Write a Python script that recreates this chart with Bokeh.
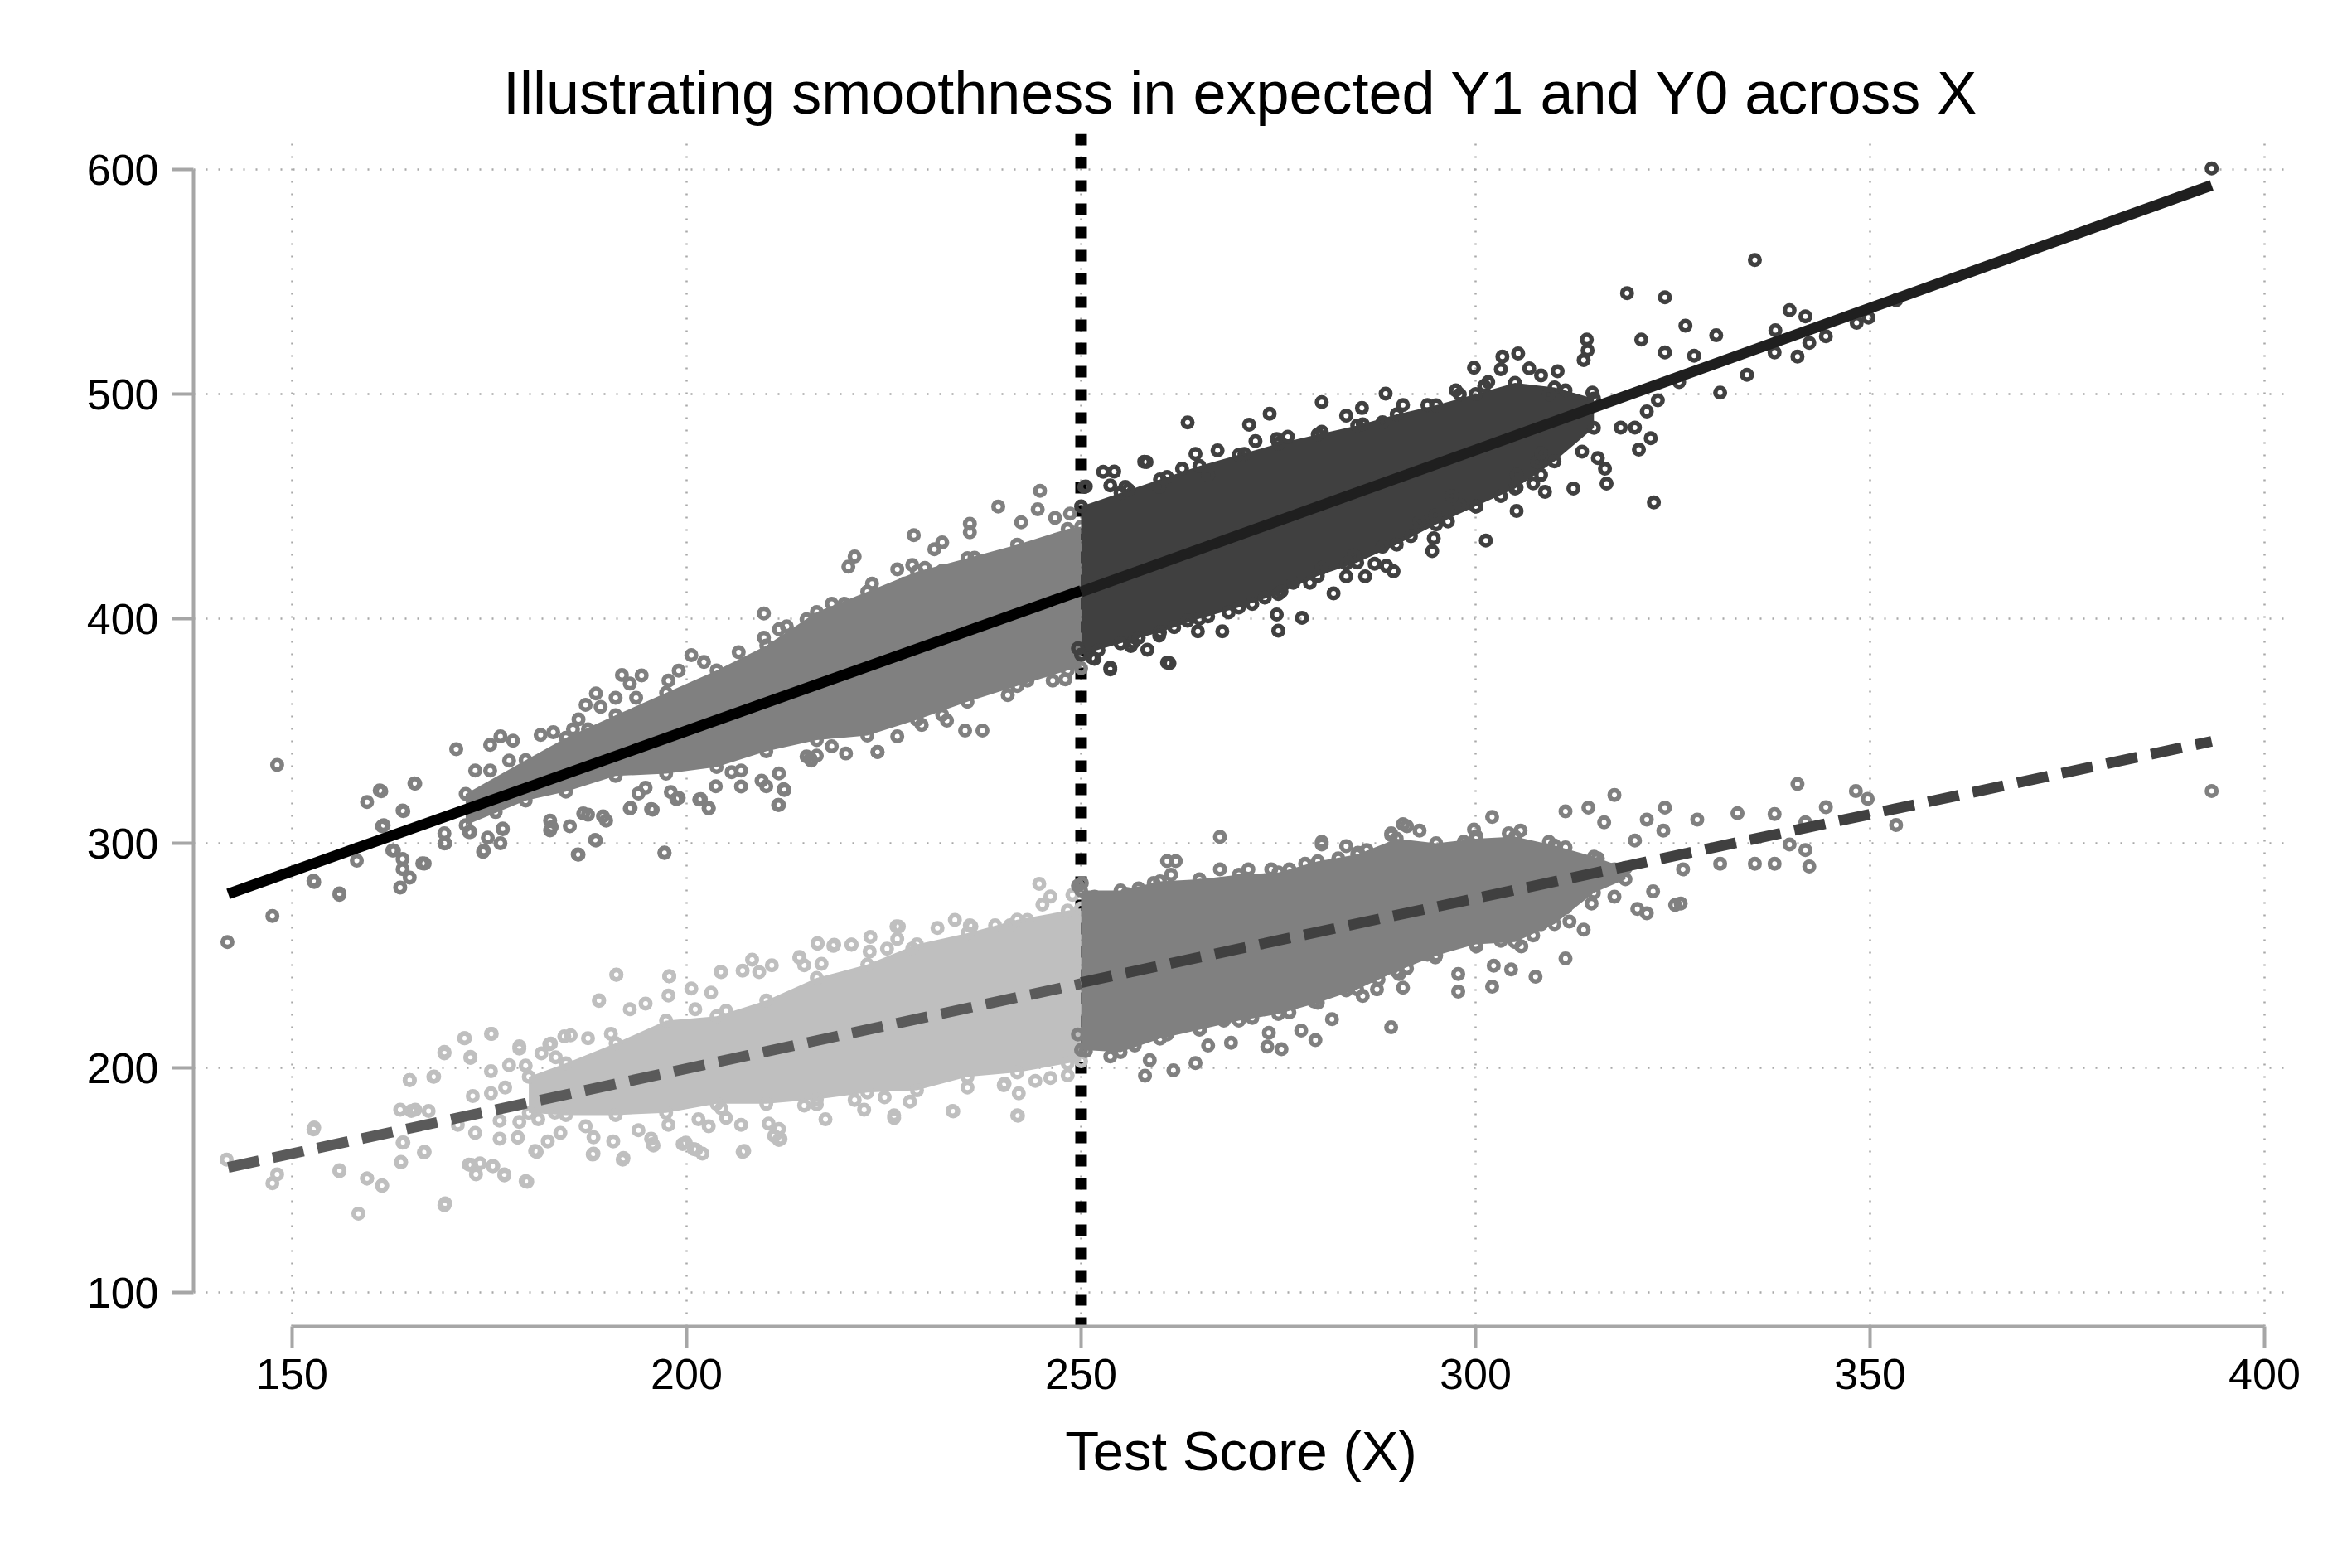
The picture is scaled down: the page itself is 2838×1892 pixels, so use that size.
from bokeh.plotting import figure
from bokeh.models import Range1d, FixedTicker, Span
from bokeh.embed import file_html
from bokeh.resources import INLINE

TITLE = "Illustrating smoothness in expected Y1 and Y0 across X"
X_LABEL = "Test Score (X)"
x_ticks = [150, 200, 250, 300, 350, 400]
y_ticks = [100, 200, 300, 400, 500, 600]
cutoff = 250

# ---- dense cores (envelopes) ----
y1_left_env_x = [172, 179.6, 184.7, 191, 197.4, 203.8, 210.1, 216.5, 222.9, 229.2, 235.6, 241.9, 248.3, 250]
y1_left_env_hi = [322, 337, 347, 357, 367, 377, 388, 403, 412, 421, 427, 433, 440, 441]
y1_left_env_lo = [308, 319, 323, 330, 331, 334, 341, 346, 348, 355, 363, 370, 377, 378]

y1_right_env_x = [250, 255, 260, 265, 270, 275, 280, 285, 290, 295, 300, 305, 310, 315]
y1_right_env_hi = [450, 456, 462, 468, 473, 478, 482, 486, 491, 495, 500, 505, 503, 498]
y1_right_env_lo = [384, 389, 394, 400, 405, 411, 419, 425, 433, 442, 450, 458, 470, 485]

y0_left_env_x = [180, 184.7, 191, 197.4, 203.8, 210.1, 216.5, 222.9, 229.2, 235.6, 241.9, 248.3, 250]
y0_left_env_hi = [196, 202, 211, 221, 223, 230, 240, 246, 255, 260, 266, 270, 271]
y0_left_env_lo = [180, 179, 179, 180, 184, 184, 186, 189, 190, 196, 198, 202, 203]

y0_right_env_x = [250, 255, 260, 265, 270, 275, 280, 285, 290, 295, 300, 305, 310, 315, 319]
y0_right_env_hi = [279, 279, 283, 284, 286, 287, 292, 295, 302, 300, 302, 303, 299, 294, 289]
y0_right_env_lo = [208, 207, 213, 217, 221, 224, 229, 235, 243, 250, 255, 256, 264, 278, 284]

# ---- individual points ----
y1_left_x = [
    244.8, 239.5, 244.5, 242.4, 246.7, 248.6, 235.9, 235.9, 228.8, 231.4, 232.4, 236.5, 221.3, 220.5,
    226.7, 228.6, 230.2, 223.5, 224.1, 227.6, 232.4, 218.4, 220.0, 209.8, 215.2, 212.7, 211.7, 209.8,
    206.6, 200.6, 202.2, 199.0, 197.7, 191.8, 194.3, 192.8, 188.5, 187.2, 191.0, 193.6, 189.1, 186.3,
    185.6, 187.5, 181.5, 183.1, 176.4, 175.1, 178.0, 170.8, 177.5, 173.2, 175.1, 165.6, 161.1, 159.5,
    164.0, 161.4,
    237.5, 235.3, 224.2, 220.2, 218.4, 215.8, 215.2, 212.3, 211.6, 210.1, 209.5, 211.7, 206.9, 205.7,
    203.7, 202.8, 201.8, 198.7, 198.0, 195.5, 192.9, 193.9, 194.8, 189.8, 188.5, 186.3, 185.2, 182.7,
    182.7, 186.9, 187.5, 189.4, 176.4, 174.8, 174.2, 172.6, 175.8, 176.7, 169.4, 169.3, 166.5, 164.0,
    164.9, 163.7, 164.0, 162.7, 158.2, 156.0, 152.8, 197.2, 233.0, 226.7, 229.8, 232.4, 240.7, 243.2,
    246.4, 248.0,
    148.1, 141.8, 147.5, 152.7, 156.0, 161.3, 165.5, 164.1, 161.6, 162.9, 166.8, 169.3, 172.4, 174.3,
    176.7, 182.9, 186.2, 188.4, 197.2, 192.8, 195.7, 199.0, 201.6, 202.8, 211.7, 212.4, 224.2, 215.7,
    206.9, 216.5]
y1_left_y = [
    456.9, 449.9, 448.7, 442.9, 444.9, 446.8, 442.3, 438.5, 437.2, 430.9, 434.0, 427.1, 427.7, 423.2,
    422.0, 423.9, 422.6, 415.6, 408.0, 415.6, 421.3, 406.7, 406.7, 402.3, 399.7, 396.6, 395.3, 391.5,
    385.1, 383.8, 380.7, 376.9, 372.4, 374.9, 374.7, 371.1, 366.7, 361.6, 364.8, 364.8, 360.7, 355.2,
    350.8, 350.8, 348.3, 349.5, 347.6, 343.8, 345.7, 341.9, 336.8, 332.4, 332.4, 326.6, 323.5, 318.4,
    314.6, 307.6,
    350.2, 350.2, 340.6, 340.0, 343.2, 336.8, 338.7, 324.1, 317.1, 325.4, 327.9, 331.1, 332.4, 331.7,
    325.4, 315.8, 319.7, 319.7, 322.8, 315.2, 315.8, 322.2, 324.7, 310.1, 301.2, 294.9, 307.6, 310.1,
    305.7, 313.3, 312.7, 312.0, 300.0, 302.5, 296.1, 305.0, 313.9, 306.3, 300.0, 304.4, 291.1, 293.0,
    284.7, 280.3, 288.5, 296.8, 292.3, 277.7, 282.8, 295.9, 354.6, 347.6, 352.7, 357.2, 366.0, 372.4,
    372.4, 373.0,
    334.9, 256.0, 267.6, 283.3, 277.0, 323.2, 326.7, 314.3, 308.0, 296.8, 291.0, 299.9, 305.0, 296.8,
    306.6, 307.3, 295.0, 301.5, 295.7, 315.5, 315.0, 320.2, 319.5, 315.5, 317.1, 323.7, 340.7, 337.7,
    325.3, 339.0]

y1_right_x = [
    393.3, 335.4, 319.2, 324.0, 326.6, 330.5, 339.8, 341.8, 338.0, 337.9, 340.8, 342.3, 344.4, 348.3,
    349.8, 353.3, 334.4, 331.0, 327.7, 324.0, 325.8, 323.1, 321.7, 322.2, 320.7, 322.6, 316.6, 316.4,
    315.5, 313.5, 312.4, 318.4, 320.2, 314.1, 314.2, 313.7, 321.0, 305.4, 303.4, 299.8, 288.6, 280.5,
    285.6, 273.9, 271.3, 263.5, 258.3, 254.2, 250.6,
    261.2, 253.7, 258.4, 267.9, 264.8, 275.0, 278.0, 282.0, 286.0, 289.6, 294.5, 301.3, 296.5, 305.2,
    308.8, 308.3, 298.0, 294.7, 288.7, 283.6, 274.8, 252.8, 258.0, 255.6, 251.4, 253.7, 252.2, 260.9,
    256.6,
    250.4, 253.7, 256.0, 259.9, 260.9, 262.8, 264.5, 266.1, 267.3, 270.7, 272.1, 274.8, 276.2, 280.5,
    283.6, 285.7, 288.2, 290.8, 293.9, 297.5, 298.0, 301.1, 301.6, 303.2, 306.8, 308.3, 310.4, 311.4,
    314.8, 309.3,
    249.6, 251.7, 256.3, 257.3, 259.9, 261.8, 263.5, 266.1, 268.7, 271.7, 273.3, 275.4, 276.9, 279.0,
    280.5, 283.6, 284.6, 287.2, 288.2, 291.8, 292.9, 294.9, 297.0, 300.1, 303.2, 305.2, 307.3, 307.8,
    305.2, 308.3]
y1_right_y = [
    600.5, 559.7, 545.0, 543.1, 530.5, 526.2, 537.4, 534.6, 528.4, 518.6, 516.7, 522.8, 525.8, 531.8,
    534.1, 541.8, 508.6, 500.7, 517.1, 518.6, 505.4, 497.3, 492.3, 480.4, 475.3, 451.8, 460.2, 466.8,
    471.5, 474.4, 458.0, 485.1, 485.1, 524.3, 519.5, 515.2, 524.3, 518.1, 516.7, 511.7, 500.2, 496.4,
    493.8, 491.3, 486.4, 487.4, 469.8, 465.5, 458.9,
    380.2, 377.4, 386.2, 394.4, 394.4, 394.7, 400.4, 411.3, 418.8, 421.1, 430.1, 434.8, 443.3, 448.0,
    456.5, 464.0, 450.8, 435.8, 423.5, 418.8, 401.9, 465.4, 469.9, 458.7, 382.7, 378.2, 386.0, 380.5,
    389.4,
    458.7, 459.3, 457.4, 458.7, 463.1, 466.8, 473.4, 464.0, 474.9, 473.4, 479.1, 480.0, 481.0, 483.2,
    490.4, 486.6, 487.5, 495.1, 495.1, 501.7, 499.8, 503.6, 505.4, 511.1, 511.5, 508.3, 510.2, 501.7,
    500.7, 499.8,
    386.8, 382.1, 387.8, 391.5, 392.5, 396.2, 399.1, 401.0, 402.8, 406.6, 409.4, 412.2, 416.0, 416.0,
    422.6, 424.5, 428.2, 424.5, 432.0, 436.7, 443.3, 446.1, 454.6, 449.9, 454.6, 458.4, 460.3, 469.7,
    464.0, 473.8]

y0_left_x = [
    141.7, 147.5, 148.1, 152.7, 156.0, 158.4, 159.5, 161.4, 163.8, 164.1, 164.9, 165.1, 166.8, 167.9,
    169.3, 169.3, 171.9, 172.6, 172.7, 175.3, 175.5, 176.9, 178.6, 178.8, 179.8, 181.0, 182.6, 184.5,
    188.1, 188.9, 191.1, 191.9, 195.7, 197.8, 199.5, 200.9, 204.3, 207.1, 211.9, 214.3, 216.6, 218.7,
    220.9, 223.3, 226.6, 226.3, 233.8, 236.1, 242.0, 240.2,
    244.7, 246.1, 245.1, 248.9, 243.2, 239.1, 241.0, 235.9, 234.0, 231.8, 226.9, 226.7, 228.6, 225.4,
    223.2, 220.9, 218.6, 216.6, 217.1, 214.3, 214.9, 210.8, 208.3, 207.1, 209.2, 204.4, 197.8, 191.1,
    188.9, 192.8, 194.8, 197.7, 200.6, 203.1, 201.1, 205.0, 185.3, 187.5, 190.4, 182.8, 181.6, 178.8,
    175.2, 171.8, 169.3, 172.6, 177.5, 175.2, 164.9, 168.0, 179.6, 183.4,
    241.9, 242.1, 240.3, 244.2, 246.1, 248.3, 233.7, 235.6, 226.3, 228.3, 225.1, 222.5, 221.3, 217.6,
    216.5, 214.9, 211.7, 211.1, 211.7, 210.4, 207.3, 206.9, 205.0, 204.4, 202.8, 202.0, 201.2, 199.9,
    201.5, 197.7, 195.8, 195.5, 193.9, 192.0, 190.7, 188.2, 188.2, 187.2, 184.0, 182.4, 180.8, 179.6,
    183.3, 181.2, 178.6, 178.8, 176.3, 176.3, 173.2, 176.9, 175.4, 173.8, 173.3, 172.4, 171.0, 172.9,
    175.2, 177.0, 164.0, 163.8, 166.7, 165.6, 167.3, 163.7, 159.5, 161.4, 156.0, 169.4, 152.8]
y0_left_y = [
    159.1, 148.6, 152.6, 172.6, 154.0, 135.1, 150.7, 147.4, 157.9, 166.8, 194.6, 180.8, 162.6, 196.0,
    138.8, 206.5, 213.2, 204.4, 156.8, 215.1, 156.3, 152.1, 168.9, 208.6, 149.3, 162.6, 210.5, 214.0,
    161.4, 229.8, 241.5, 159.1, 166.1, 240.8, 166.1, 163.8, 242.7, 162.6, 168.4, 249.0, 255.3, 254.8,
    254.8, 258.3, 263.0, 178.9, 180.6, 263.0, 178.7, 192.3,
    281.9, 276.3, 272.7, 277.0, 265.9, 263.5, 263.5, 263.5, 265.9, 262.3, 262.9, 257.4, 253.1, 253.1,
    251.8, 254.9, 254.3, 255.5, 246.3, 249.4, 245.7, 245.7, 248.2, 243.3, 242.6, 242.6, 240.8, 241.4,
    230.1, 226.1, 228.6, 232.2, 235.3, 233.5, 226.1, 225.5, 214.5, 213.2, 215.1, 210.8, 206.5, 209.6,
    215.1, 213.2, 207.1, 204.9, 201.2, 198.5, 194.6, 196.1, 201.0, 204.7,
    178.9, 188.7, 193.0, 194.2, 195.5, 196.7, 180.8, 191.2, 177.7, 185.0, 186.9, 181.4, 185.7, 177.1,
    183.8, 183.2, 167.9, 169.7, 172.8, 175.2, 163.0, 174.6, 177.7, 181.9, 174.0, 161.8, 163.6, 166.7,
    177.1, 174.6, 165.4, 168.5, 172.2, 159.9, 167.3, 161.8, 169.1, 174.0, 171.0, 167.3, 163.0, 149.5,
    180.1, 177.1, 169.1, 175.9, 168.5, 176.5, 171.0, 152.6, 156.3, 157.5, 152.6, 156.9, 174.6, 187.5,
    188.7, 191.2, 166.7, 158.1, 162.4, 181.4, 180.8, 181.4, 150.7, 147.7, 154.4, 139.7, 173.4]

y0_right_x = [
    393.3, 353.3, 349.7, 348.2, 344.4, 340.8, 337.9, 341.8, 339.8, 341.8, 342.3, 337.9, 335.4, 333.2,
    331.0, 328.1, 326.3, 326.0, 324.0, 321.7, 323.8, 320.2, 317.6, 314.3, 311.4, 316.3, 322.5, 320.5,
    321.7, 325.3, 317.6, 314.7, 313.7, 311.4, 311.9, 307.6, 304.5, 302.1, 297.8, 297.8, 289.3, 302.1,
    299.8, 291.3, 289.3, 283.6, 280.5, 267.6, 274.1, 260.9, 259.2, 250.1,
    258.1, 261.7, 264.5, 269.0, 273.6, 275.4, 279.7, 277.9, 273.8, 266.1, 258.7, 281.8, 285.7, 287.5,
    290.8, 293.9, 290.3, 302.3,
    249.6, 251.7, 255.8, 257.3, 261.4, 262.0, 265.1, 267.6, 270.2, 271.2, 274.3, 276.4, 278.4, 280.5,
    282.6, 285.1, 286.2, 289.3, 290.8, 292.9, 294.9, 298.5, 300.1, 301.6, 304.2, 305.7, 307.3, 309.3,
    311.4, 315.5, 317.6,
    249.6, 250.6, 253.7, 256.8, 260.9, 265.1, 268.1, 271.7, 276.4, 279.5, 283.6, 287.7, 291.3, 294.9,
    297.0, 300.1, 303.2, 305.8, 308.3, 311.4, 313.5, 307.3]
y0_right_y = [
    323.3, 308.1, 319.8, 323.3, 316.1, 326.4, 313.0, 309.3, 299.5, 297.0, 289.7, 290.9, 290.9, 313.4,
    290.9, 310.5, 288.4, 273.2, 315.9, 310.5, 305.6, 301.2, 321.5, 315.9, 314.2, 309.3, 278.6, 270.8,
    268.8, 272.5, 276.2, 273.2, 261.5, 248.7, 265.1, 240.6, 243.8, 236.2, 234.0, 241.8, 218.1, 311.7,
    306.1, 307.6, 303.6, 298.7, 300.7, 302.9, 288.4, 292.1, 282.3, 282.3,
    196.5, 198.9, 202.1, 211.2, 209.5, 208.3, 212.4, 216.6, 215.6, 210.0, 203.4, 221.7, 232.0, 235.0,
    235.7, 250.4, 241.8, 245.5,
    281.1, 276.2, 277.4, 279.9, 286.0, 292.1, 281.1, 288.4, 283.5, 288.4, 282.3, 288.4, 290.9, 299.5,
    293.3, 295.8, 297.0, 304.4, 308.5, 305.6, 294.6, 300.7, 303.1, 297.0, 304.4, 305.6, 295.8, 300.7,
    298.2, 293.3, 288.4,
    214.9, 207.5, 205.1, 210.0, 214.9, 217.3, 221.0, 222.2, 224.7, 229.6, 234.5, 239.4, 244.3, 249.2,
    256.6, 254.1, 256.6, 254.1, 263.9, 271.3, 281.1, 259.0]

# ---- fitted lines (end points) ----
fit_y1_left_x = [141.9, 250.0]
fit_y1_left_y = [277.5, 412.5]
fit_y1_right_x = [250.0, 393.3]
fit_y1_right_y = [412.0, 593.0]
fit_y0_left_x = [141.9, 250.0]
fit_y0_left_y = [155.7, 237.5]
fit_y0_right_x = [250.0, 393.3]
fit_y0_right_y = [238.0, 345.4]

FONT = "Liberation Sans"
AXIS_GRAY = "#a6a6a6"

p = figure(frame_width=2528, frame_height=1439,
           x_range=Range1d(137.5, 403.05), y_range=Range1d(84.87, 615.9),
           output_backend="svg", toolbar_location=None,
           min_border_left=233, min_border_right=61, min_border_top=161, min_border_bottom=276)
p.outline_line_color = None
p.background_fill_color = "white"

p.title.text = TITLE
p.title.text_font = FONT
p.title.text_font_size = "72px"
p.title.text_font_style = "normal"
p.title.text_color = "black"
p.title.align = "center"
p.title.offset = 18
p.title.standoff = 19

for ax, ticks in ((p.xaxis, x_ticks), (p.yaxis, y_ticks)):
    ax.ticker = FixedTicker(ticks=ticks)
    ax.bounds = (ticks[0], ticks[-1])
    ax.axis_line_color = AXIS_GRAY
    ax.axis_line_width = 4
    ax.major_tick_line_color = AXIS_GRAY
    ax.major_tick_line_width = 4
    ax.major_tick_out = 26
    ax.major_tick_in = 0
    ax.minor_tick_out = 0
    ax.minor_tick_in = 0
    ax.major_label_text_font = FONT
    ax.major_label_text_font_size = "52px"
    ax.major_label_text_color = "black"

p.xaxis.major_label_standoff = 13
p.yaxis.major_label_standoff = 16
p.xaxis.axis_label = X_LABEL
p.xaxis.axis_label_text_font = FONT
p.xaxis.axis_label_text_font_size = "67px"
p.xaxis.axis_label_text_font_style = "normal"
p.xaxis.axis_label_text_color = "black"
p.xaxis.axis_label_standoff = 34

p.xgrid.ticker = FixedTicker(ticks=x_ticks)
p.ygrid.ticker = FixedTicker(ticks=y_ticks)
for g in (p.xgrid, p.ygrid):
    g.grid_line_color = "#a8a8a8"
    g.grid_line_width = 2.5
    g.grid_line_dash = "2 13"

cut = Span(location=cutoff, dimension="height", line_color="black",
           line_width=14, line_dash="14 14", level="underlay")
p.add_layout(cut)

MS, MW = 11.5, 5.5

def cloud(ex, elo, ehi, px, py, color):
    p.varea(x=ex, y1=elo, y2=ehi, fill_color=color)
    p.scatter(ex, ehi, marker="circle", size=MS, fill_color=None, line_color=color, line_width=MW)
    p.scatter(ex, elo, marker="circle", size=MS, fill_color=None, line_color=color, line_width=MW)
    p.scatter(px, py, marker="circle", size=MS, fill_color=None, line_color=color, line_width=MW)

cloud(y1_left_env_x, y1_left_env_lo, y1_left_env_hi, y1_left_x, y1_left_y, "#808080")
cloud(y0_left_env_x, y0_left_env_lo, y0_left_env_hi, y0_left_x, y0_left_y, "#bfbfbf")
cloud(y1_right_env_x, y1_right_env_lo, y1_right_env_hi, y1_right_x, y1_right_y, "#404040")
cloud(y0_right_env_x, y0_right_env_lo, y0_right_env_hi, y0_right_x, y0_right_y, "#808080")

p.line(fit_y1_left_x, fit_y1_left_y, line_color="black", line_width=13)
p.line(fit_y1_right_x, fit_y1_right_y, line_color="#1f1f1f", line_width=13)
p.line(fit_y0_left_x, fit_y0_left_y, line_color="#5a5a5a", line_width=13, line_dash="38 17")
p.line(fit_y0_right_x, fit_y0_right_y, line_color="#404040", line_width=13, line_dash="38 17")

open("out.html", "w").write(file_html(p, INLINE))
